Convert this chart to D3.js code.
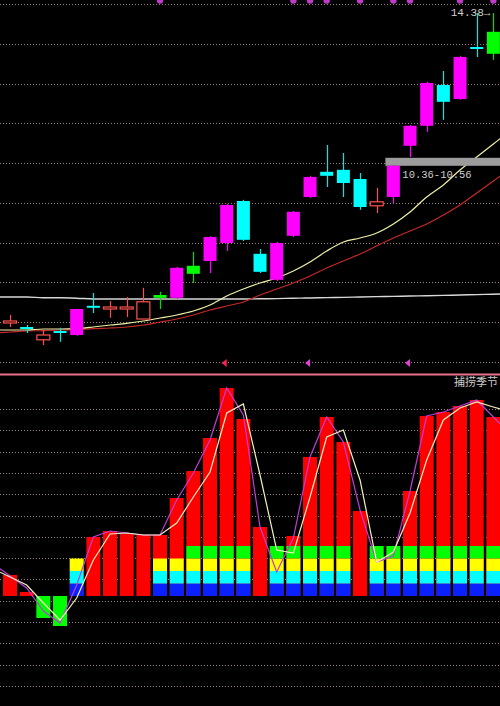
<!DOCTYPE html>
<html>
<head>
<meta charset="utf-8">
<script src="https://cdn.jsdelivr.net/npm/d3@7"></script>
<style>
body{margin:0;background:#000;overflow:hidden;}
</style>
</head>
<body>
<script>
// k-line + 捕捞季节 chart

(function(){

//pseudo-global data arrays (one entry per trading day)
var openArr  = [6.63,6.53,6.21,6.43,6.33,7.06,6.98,6.98,6.73,7.33,7.26,8.06,8.18,8.63,9.68,8.36,7.71,8.81,9.78,10.41,10.46,10.23,9.56,9.78,11.06,11.56,12.58,12.23,13.53,13.91];
var closeArr = [6.68,6.48,6.33,6.41,6.98,7.01,7.03,7.03,7.16,7.26,8.01,7.86,8.78,9.58,8.71,7.91,8.63,9.41,10.28,10.31,10.13,9.53,9.66,10.56,11.56,12.63,12.16,13.28,13.48,13.36];
var highArr  = [6.83,6.58,6.46,6.51,6.98,7.38,7.18,7.28,7.51,7.41,8.03,8.41,8.80,9.61,9.71,8.48,8.66,9.43,10.31,11.08,10.88,10.38,10.01,10.58,11.58,12.66,12.93,13.31,14.38,14.38];
var lowArr   = [6.53,6.38,6.08,6.16,6.31,6.88,6.76,6.78,6.73,6.98,7.23,7.63,7.88,8.43,8.68,7.88,7.68,8.78,9.76,10.03,9.78,9.46,9.38,9.63,10.78,11.41,11.71,12.21,13.28,13.21];
//candle signal kind
var kindArr  = ["up","down","up","down","strong","down","up","up","up","alert","strong","alert","strong","strong","down","down","strong","strong","strong","down","down","down","up","strong","strong","strong","down","strong","down","alert"];

//moving averages on price panel
var maShort = [6.455,6.455,6.48,6.48,6.49,6.53,6.58,6.62,6.68,6.755,6.83,6.93,7.08,7.305,7.48,7.63,7.755,7.93,8.155,8.43,8.655,8.755,8.88,9.105,9.405,9.78,10.08,10.455,10.78,11.105];
var maLong  = [6.405,6.43,6.44,6.455,6.465,6.49,6.505,6.53,6.58,6.655,6.73,6.83,6.955,7.055,7.155,7.33,7.48,7.63,7.805,8.005,8.18,8.355,8.555,8.755,8.93,9.105,9.33,9.58,9.88,10.18];
var maFlat  = [7.28,7.28,7.26,7.26,7.25,7.23,7.23,7.23,7.23,7.23,7.23,7.23,7.23,7.23,7.23,7.235,7.24,7.25,7.255,7.265,7.27,7.28,7.29,7.295,7.305,7.31,7.32,7.33,7.34,7.35];

//signal markers
var dotDays = [9,17,18,19,21,23,24,27,29];
var arrowDays = [13,18,24];

//price labels
var highLabel = "14.38";
var bandLow = 10.36, bandHigh = 10.56, bandDay = 23;

//indicator panel (捕捞季节)
var indTitle = "捕捞季节";
var barVals  = [0.42,0.08,-0.44,-0.60,0.26,1.18,1.30,1.24,1.22,1.22,1.96,2.50,3.16,4.16,3.54,1.38,0.48,1.20,2.78,3.58,3.08,1.70,0.68,0.80,2.10,3.60,3.68,3.80,3.92,3.58];
var fastLine = [0.40,0.16,-0.30,-0.54,0.22,1.18,1.30,1.26,1.22,1.22,1.92,2.46,3.12,4.16,3.62,1.38,0.48,1.16,2.78,3.58,3.08,1.72,0.68,0.80,2.10,3.60,3.68,3.80,3.92,3.58];
var slowLine = [0.38,0.22,-0.14,-0.48,-0.04,0.72,1.24,1.26,1.22,1.22,1.46,1.98,2.48,3.66,3.84,2.42,0.92,0.86,1.98,3.18,3.32,2.32,0.68,0.88,1.66,2.72,3.52,3.76,3.88,3.78];
var stackLevel = [0,0,0,0,3,0,0,0,0,3,3,4,4,4,4,0,4,4,4,4,4,0,4,4,4,4,4,4,4,4];
var layerStep = 0.25;

//begin script when window loads
window.onload = drawChart();

function drawChart(){
    var width = 500,
        height = 706;

    var svg = d3.select("body")
        .append("svg")
        .attr("width", width)
        .attr("height", height)
        .style("background", "#000");

    var days = d3.range(openArr.length);

    //shared x scale for both panels
    var x = d3.scaleBand()
        .domain(days)
        .range([1.7, 501.7])
        .paddingInner(0.16)
        .paddingOuter(0.08);

    var cx = function(i){ return x(i) + x.bandwidth() / 2; };

    //price panel y scale
    var yP = d3.scaleLinear()
        .domain([5.405, 14.705])
        .range([372, 0]);

    //indicator panel y scale
    var yI = d3.scaleLinear()
        .domain([-2.2, 4.42])
        .range([706, 375]);

    drawGrid(svg, width);
    drawPricePanel(svg, days, x, cx, yP);
    drawIndicatorPanel(svg, days, x, cx, yI);
};

function drawGrid(svg, width){
    //evenly spaced dotted lines in each panel
    var gTop = d3.scaleLinear().domain([0, 9]).range([4, 362]);
    var gBot = d3.scaleLinear().domain([0, 13]).range([409, 686]);

    var rows = d3.range(10).map(gTop).concat(d3.range(14).map(gBot));

    svg.append("g")
        .selectAll("line")
        .data(rows)
        .enter()
        .append("line")
        .attr("x1", 0)
        .attr("x2", width)
        .attr("y1", function(d){ return Math.round(d) + 0.5; })
        .attr("y2", function(d){ return Math.round(d) + 0.5; })
        .attr("stroke", "#9a8080")
        .attr("stroke-width", 1)
        .attr("stroke-dasharray", "1,2");

    //panel separator
    svg.append("line")
        .attr("x1", 0)
        .attr("x2", width)
        .attr("y1", 374.5)
        .attr("y2", 374.5)
        .attr("stroke", "#e8708c")
        .attr("stroke-width", 2);
};

//extend a day-indexed line to both edges of the chart
function edgeLine(arr, cx, y){
    var n = arr.length;
    var pts = arr.map(function(v, i){ return [cx(i), y(v)]; });
    var step = cx(1) - cx(0);
    pts.unshift([0, y(arr[0] - (arr[1] - arr[0]) * cx(0) / step)]);
    pts.push([500, y(arr[n-1] + (arr[n-1] - arr[n-2]) * (500 - cx(n-1)) / step)]);
    return pts;
};

function drawPricePanel(svg, days, x, cx, yP){
    var fillCol = {strong: "#ff00ff", up: "#000", down: "#00ffff", alert: "#00ff00"};
    var lineCol = {strong: "#ff00ff", up: "#ff5050", down: "#00e8e8", alert: "#00e000"};

    //moving averages
    var line = function(arr){
        return d3.line().curve(d3.curveMonotoneX)(edgeLine(arr, cx, yP));
    };

    svg.append("path").attr("d", line(maFlat))
        .attr("fill", "none").attr("stroke", "#d8d8d8").attr("stroke-width", 1.4);
    svg.append("path").attr("d", line(maLong))
        .attr("fill", "none").attr("stroke", "#c82828").attr("stroke-width", 1.2);
    svg.append("path").attr("d", line(maShort))
        .attr("fill", "none").attr("stroke", "#f0f0a8").attr("stroke-width", 1.2);

    //label band (drawn behind candles)
    svg.append("rect")
        .attr("x", x(bandDay) - 1)
        .attr("y", yP(bandHigh) - 8)
        .attr("width", 500 - x(bandDay) + 1)
        .attr("height", 8)
        .attr("fill", "#9c9c9c");

    svg.append("text")
        .attr("x", cx(bandDay) + 9)
        .attr("y", yP(bandHigh) + 12)
        .attr("fill", "#cfcfcf")
        .style("font-family", "Liberation Mono, DejaVu Sans Mono, monospace")
        .style("font-size", "10.5px")
        .text(bandLow.toFixed(2) + "-" + bandHigh.toFixed(2));

    //wicks
    svg.append("g")
        .selectAll("line")
        .data(days)
        .enter()
        .append("line")
        .attr("x1", function(d){ return Math.round(cx(d)) + 0.5; })
        .attr("x2", function(d){ return Math.round(cx(d)) + 0.5; })
        .attr("y1", function(d){ return yP(highArr[d]); })
        .attr("y2", function(d){ return yP(lowArr[d]); })
        .attr("stroke", function(d){ return lineCol[kindArr[d]]; })
        .attr("stroke-width", 1.2);

    //bodies
    svg.append("g")
        .selectAll("rect")
        .data(days)
        .enter()
        .append("rect")
        .attr("x", function(d){ return x(d) + 0.5; })
        .attr("width", x.bandwidth() - 1)
        .attr("y", function(d){ return yP(Math.max(openArr[d], closeArr[d])); })
        .attr("height", function(d){
            return Math.max(2, Math.abs(yP(openArr[d]) - yP(closeArr[d])));
        })
        .attr("fill", function(d){ return fillCol[kindArr[d]]; })
        .attr("stroke", function(d){ return kindArr[d] == "up" ? lineCol.up : "none"; })
        .attr("stroke-width", 1.2);

    //high price label with arrow (points at the last day that made the high)
    var hiDay = highArr.lastIndexOf(d3.max(highArr));
    svg.append("text")
        .attr("x", cx(hiDay) - 3)
        .attr("y", yP(highArr[hiDay]) + 3)
        .attr("text-anchor", "end")
        .attr("fill", "#d0d0d0")
        .style("font-family", "Liberation Mono, DejaVu Sans Mono, monospace")
        .style("font-size", "11px")
        .text(highLabel + "→");

    //signal dots on top edge
    svg.append("g")
        .selectAll("circle")
        .data(dotDays)
        .enter()
        .append("circle")
        .attr("cx", function(d){ return cx(d); })
        .attr("cy", 0.5)
        .attr("r", 3.2)
        .attr("fill", "#c03cc8");

    //small arrow markers at panel bottom
    svg.append("g")
        .selectAll("path")
        .data(arrowDays)
        .enter()
        .append("path")
        .attr("d", function(d){
            var px = cx(d) - 2, py = 363;
            return "M" + (px + 2) + "," + (py - 4) + "L" + (px + 2) + "," + (py + 4) + "L" + (px - 3) + "," + py + "Z";
        })
        .attr("fill", function(d, i){ return i == 0 ? "#ff2050" : "#e040d8"; });
};

function drawIndicatorPanel(svg, days, x, cx, yI){
    var layerCol = ["#0a20ff", "#00ffff", "#ffff00", "#00ff00"];

    //main bars
    svg.append("g")
        .selectAll("rect")
        .data(days)
        .enter()
        .append("rect")
        .attr("x", function(d){ return x(d); })
        .attr("width", x.bandwidth())
        .attr("y", function(d){ return yI(Math.max(0, barVals[d])); })
        .attr("height", function(d){ return Math.abs(yI(barVals[d]) - yI(0)); })
        .attr("fill", function(d){ return barVals[d] >= 0 ? "#ff0000" : "#00ff00"; });

    //stacked colour bands
    var cells = [];
    days.forEach(function(d){
        for (var k=0; k<stackLevel[d]; k++){
            cells.push({day: d, layer: k});
        };
    });

    svg.append("g")
        .selectAll("rect")
        .data(cells)
        .enter()
        .append("rect")
        .attr("x", function(c){ return x(c.day); })
        .attr("width", x.bandwidth())
        .attr("y", function(c){ return yI((c.layer + 1) * layerStep); })
        .attr("height", function(c){ return yI(c.layer * layerStep) - yI((c.layer + 1) * layerStep); })
        .attr("fill", function(c){ return layerCol[c.layer]; });

    //indicator lines
    var line = function(arr){
        return d3.line()(edgeLine(arr, cx, yI));
    };

    svg.append("path").attr("d", line(fastLine))
        .attr("fill", "none").attr("stroke", "#c03cd8").attr("stroke-width", 1.2);
    svg.append("path").attr("d", line(slowLine))
        .attr("fill", "none").attr("stroke", "#f4f0c0").attr("stroke-width", 1.2);

    //title
    svg.append("text")
        .attr("x", 498)
        .attr("y", 386)
        .attr("text-anchor", "end")
        .attr("fill", "#cccccc")
        .style("font-family", "Noto Sans CJK SC, sans-serif")
        .style("font-size", "11px")
        .text(indTitle);
};

})(); //end
</script>
</body>
</html>
